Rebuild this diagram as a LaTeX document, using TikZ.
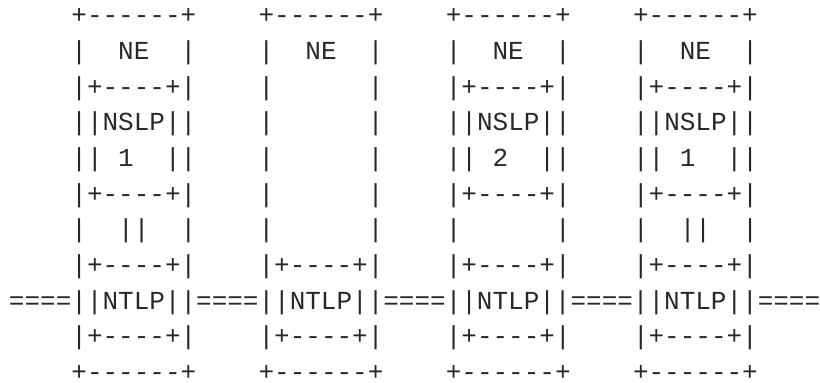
\documentclass[tikz,border=0pt]{standalone}
\usepackage{fontspec}
\setmonofont{Liberation Mono}
\definecolor{asciicol}{RGB}{40,40,40}
\tikzset{asciiline/.style={anchor=base west, inner sep=0pt, outer sep=0pt, text depth=0pt, text=asciicol, font=\ttfamily\fontsize{26}{26}\selectfont}}
\begin{document}
\begin{tikzpicture}[x=1pt,y=-1pt]
\useasboundingbox (0,0) rectangle (820,383);
\node[asciiline] (l0)  at (9, 23.6) {~~~~+------+~~~~+------+~~~~+------+~~~~+------+};
\node[asciiline] (l1)  at (9, 59.3) {~~~~|~~NE~~|~~~~|~~NE~~|~~~~|~~NE~~|~~~~|~~NE~~|};
\node[asciiline] (l2)  at (9, 95.0) {~~~~|+----+|~~~~|~~~~~~|~~~~|+----+|~~~~|+----+|};
\node[asciiline] (l3)  at (9,130.7) {~~~~||NSLP||~~~~|~~~~~~|~~~~||NSLP||~~~~||NSLP||};
\node[asciiline] (l4)  at (9,166.4) {~~~~||~1~~||~~~~|~~~~~~|~~~~||~2~~||~~~~||~1~~||};
\node[asciiline] (l5)  at (9,202.1) {~~~~|+----+|~~~~|~~~~~~|~~~~|+----+|~~~~|+----+|};
\node[asciiline] (l6)  at (9,237.8) {~~~~|~~||~~|~~~~|~~~~~~|~~~~|~~~~~~|~~~~|~~||~~|};
\node[asciiline] (l7)  at (9,273.5) {~~~~|+----+|~~~~|+----+|~~~~|+----+|~~~~|+----+|};
\node[asciiline] (l8)  at (9,309.2) {====||NTLP||====||NTLP||====||NTLP||====||NTLP||====};
\node[asciiline] (l9)  at (9,344.9) {~~~~|+----+|~~~~|+----+|~~~~|+----+|~~~~|+----+|};
\node[asciiline] (l10) at (9,380.3) {~~~~+------+~~~~+------+~~~~+------+~~~~+------+};
\end{tikzpicture}
\end{document}
